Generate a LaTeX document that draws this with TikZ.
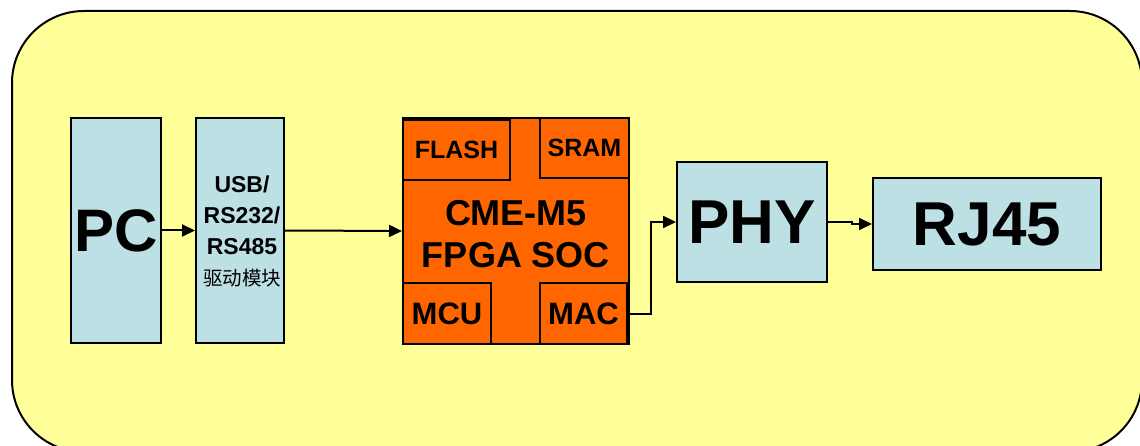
\documentclass[tikz,border=0pt]{standalone}
\usepackage{fontspec}
\setmainfont{Liberation Sans}
\newfontfamily\cjk{Noto Sans CJK SC}
\usetikzlibrary{arrows.meta}
\definecolor{bgyellow}{HTML}{FFFF99}
\definecolor{lblue}{HTML}{BCE0E4}
\definecolor{orng}{HTML}{FF6600}
\tikzset{
  blk/.style={draw=black, line width=2pt, fill=lblue, inner sep=0pt, align=center, font=\bfseries},
  oblk/.style={draw=black, line width=2pt, fill=orng, inner sep=0pt, align=center, font=\bfseries},
  conn/.style={line width=2pt, -{Triangle[length=13pt,width=12pt]}},
}
\begin{document}
\begin{tikzpicture}[x=1pt,y=-1pt]
\useasboundingbox (0,0) rectangle (1140,446);
\begin{scope}
\clip (0,0) rectangle (1140,446);
\draw[line width=2pt, fill=bgyellow, rounded corners=72pt] (12,11) rectangle (1142,452);
\end{scope}
% PC
\node[blk, minimum width=90pt, minimum height=225pt, font=\bfseries\fontsize{60}{60}\selectfont] (pc) at (116,230.5) {PC};
% USB driver module
\node[blk, minimum width=88pt, minimum height=225pt] (usb) at (240,230.5) {};
\node[font=\bfseries\fontsize{23}{31}\selectfont, align=center, anchor=center] (usbtxt) at (242,231)
  {USB/\\RS232/\\RS485\\{\normalfont\cjk\fontsize{19.5}{31}\selectfont 驱动模块}};
% FPGA
\node[oblk, minimum width=226pt, minimum height=226pt] (fpga) at (516,231) {};
\node[oblk, minimum width=107pt, minimum height=60pt, font=\bfseries\fontsize{25}{25}\selectfont] (flash) at (456.5,150) {FLASH};
\node[oblk, minimum width=89pt, minimum height=60pt, font=\bfseries\fontsize{25}{25}\selectfont] (sram) at (584.5,148) {SRAM};
\node[oblk, minimum width=88pt, minimum height=61pt, font=\bfseries\fontsize{31}{31}\selectfont] (mcu) at (447,313.5) {MCU};
\node[oblk, minimum width=87pt, minimum height=61pt, font=\bfseries\fontsize{31}{31}\selectfont] (mac) at (583.5,313.5) {MAC};
\node[font=\bfseries\fontsize{36}{42}\selectfont, align=center] (soc) at (516,234) {CME-M5\\FPGA SOC};
% PHY
\node[blk, minimum width=150pt, minimum height=120pt, font=\bfseries\fontsize{62}{62}\selectfont] (phy) at (752,222) {PHY};
% RJ45
\node[blk, minimum width=228pt, minimum height=92pt, font=\bfseries\fontsize{62}{62}\selectfont] (rj) at (987,224) {RJ45};
% connectors
\draw[conn] (pc.east) -- (usb.west);
\draw[conn] (usb.east) -- (fpga.west);
\draw[conn] (mac.east) -- ++(23,0) |- (phy.west);
\draw[conn] (phy.east) -- ++(24,0) |- (rj.west);
\end{tikzpicture}
\end{document}
